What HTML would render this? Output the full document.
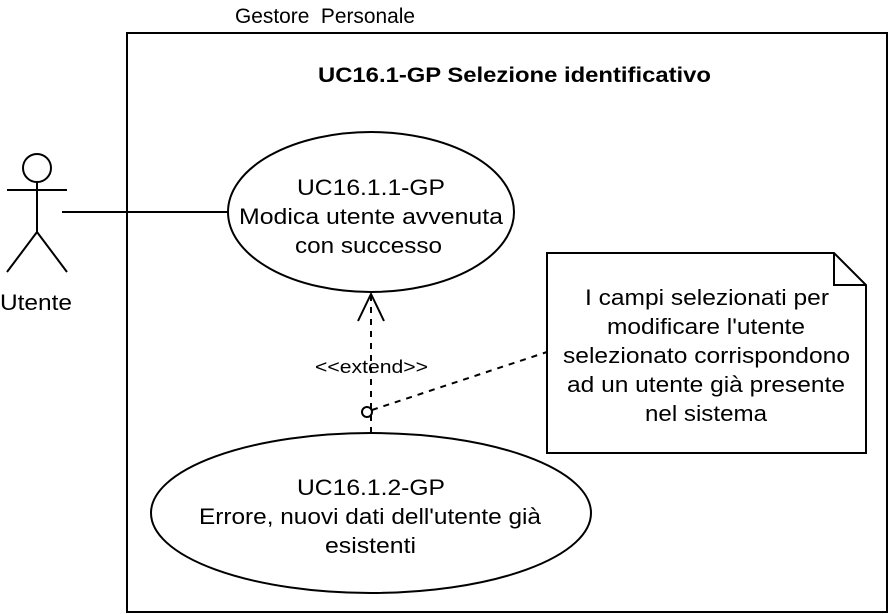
<!DOCTYPE html>
<html><head><meta charset="utf-8"><style>html,body{margin:0;padding:0;background:#fff}svg{display:block}</style></head>
<body>
<svg width="888" height="614" viewBox="0 0 888 614" xmlns="http://www.w3.org/2000/svg" font-family="Liberation Sans, Arial, sans-serif">
<rect width="888" height="614" fill="#fff"/>
<text x="235" y="23" font-size="21" textLength="180" lengthAdjust="spacingAndGlyphs" xml:space="preserve">Gestore  Personale</text>
<rect x="127" y="33" width="760" height="579" fill="none" stroke="#000" stroke-width="2"/>
<text x="318" y="82" font-size="21" font-weight="bold" textLength="393" lengthAdjust="spacingAndGlyphs">UC16.1-GP Selezione identificativo</text>
<g stroke="#000" stroke-width="2" fill="none">
<circle cx="37" cy="168" r="14" fill="#fff"/>
<line x1="37" y1="182" x2="37" y2="232"/>
<line x1="7" y1="190" x2="67" y2="190"/>
<line x1="37" y1="232" x2="7" y2="272"/>
<line x1="37" y1="232" x2="67" y2="272"/>
<line x1="62" y1="212" x2="228" y2="212"/>
<ellipse cx="371" cy="212" rx="143" ry="80" fill="#fff"/>
<ellipse cx="371" cy="513" rx="220" ry="80" fill="#fff"/>
<line x1="371" y1="433" x2="371" y2="296" stroke-dasharray="6,6"/>
<polyline points="358,321 371,294 384,321"/>
<line x1="372" y1="410" x2="547" y2="352" stroke-dasharray="6,6"/>
<circle cx="367" cy="412" r="5" fill="#fff"/>
<path d="M547 253 H834 L866 285 V453 H547 Z" fill="#fff"/>
<path d="M834 253 V285 H866"/>
</g>
<g font-size="22" lengthAdjust="spacingAndGlyphs">
<text x="0" y="310" textLength="72" lengthAdjust="spacingAndGlyphs">Utente</text>
<text x="297" y="195" textLength="148" lengthAdjust="spacingAndGlyphs">UC16.1.1-GP</text>
<text x="239" y="224" textLength="264" lengthAdjust="spacingAndGlyphs">Modica utente avvenuta</text>
<text x="295" y="253" textLength="147" lengthAdjust="spacingAndGlyphs">con successo</text>
<text x="297" y="495" textLength="148" lengthAdjust="spacingAndGlyphs">UC16.1.2-GP</text>
<text x="199" y="524" textLength="342" lengthAdjust="spacingAndGlyphs">Errore, nuovi dati dell'utente già</text>
<text x="325" y="553" textLength="91" lengthAdjust="spacingAndGlyphs">esistenti</text>
<text x="585" y="305" textLength="244" lengthAdjust="spacingAndGlyphs">I campi selezionati per</text>
<text x="607" y="334" textLength="198" lengthAdjust="spacingAndGlyphs">modificare l'utente</text>
<text x="563" y="363" textLength="287" lengthAdjust="spacingAndGlyphs">selezionato corrispondono</text>
<text x="567" y="392" textLength="278" lengthAdjust="spacingAndGlyphs">ad un utente già presente</text>
<text x="645" y="421" textLength="122" lengthAdjust="spacingAndGlyphs">nel sistema</text>
</g>
<text x="315" y="373" font-size="18" textLength="113" lengthAdjust="spacingAndGlyphs">&lt;&lt;extend&gt;&gt;</text>
</svg>
</body></html>
